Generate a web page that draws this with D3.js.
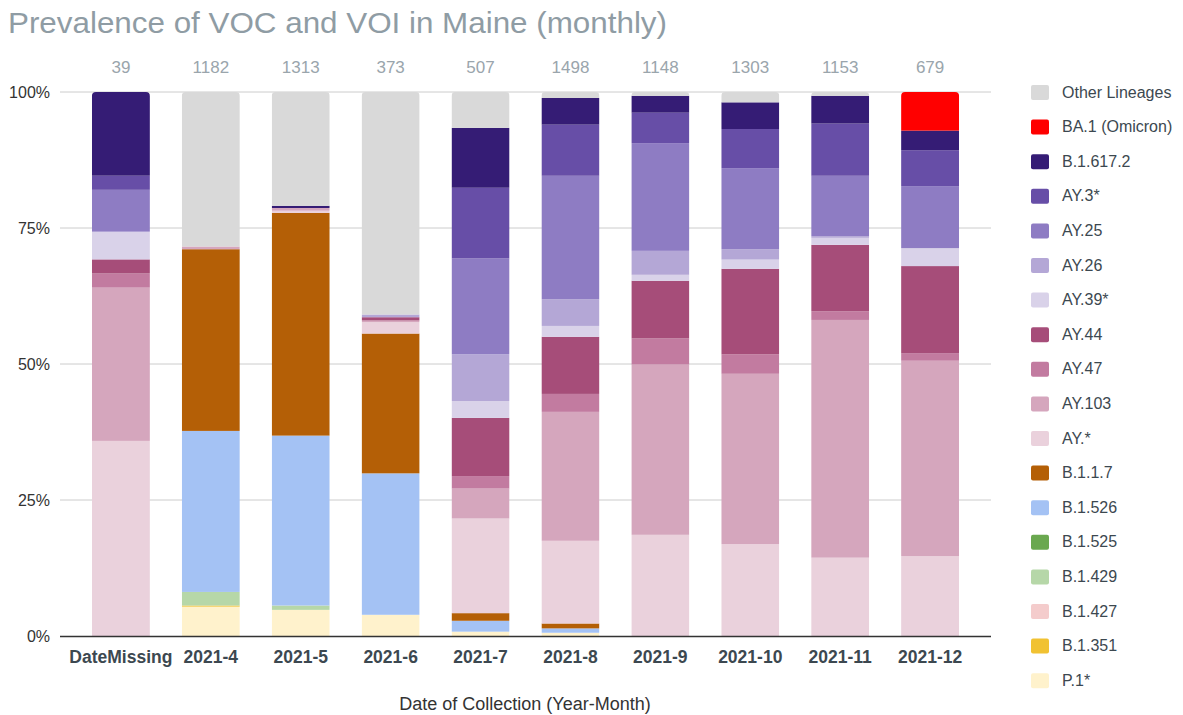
<!DOCTYPE html>
<html><head><meta charset="utf-8">
<script src="https://cdn.jsdelivr.net/npm/d3@7"></script>
<style>body{margin:0;background:#fff;font-family:"Liberation Sans",Arial,sans-serif}</style>
</head><body><svg id="c" width="1183" height="715" font-family="Liberation Sans, Arial, sans-serif"></svg>
<script>
const categories = ["DateMissing","2021-4","2021-5","2021-6","2021-7","2021-8","2021-9","2021-10","2021-11","2021-12"];
const counts = [39,1182,1313,373,507,1498,1148,1303,1153,679];
const seriesNames = ["P.1*","B.1.351","B.1.427","B.1.429","B.1.525","B.1.526","B.1.1.7","AY.*","AY.103","AY.47","AY.44","AY.39*","AY.26","AY.25","AY.3*","B.1.617.2","BA.1 (Omicron)","Other Lineages"];
const seriesColors = ["#fff2cc","#f1c232","#f4cccc","#b6d7a8","#6aa84f","#a4c2f4","#b45f06","#ead1dc","#d5a6bd","#c27ba0","#a64d79","#d9d2e9","#b4a7d6","#8e7cc3","#674ea7","#351c75","#ff0000","#d9d9d9"];
const P1     = [0,5.4,4.8,3.9,0.8,0.6,0,0,0,0];
const B1351  = [0,0.2,0,0,0,0,0,0,0,0];
const B1427  = [0,0,0,0,0,0,0,0,0,0];
const B1429  = [0,2.5,0.8,0,0,0,0,0,0,0];
const B1525  = [0,0,0,0,0,0,0,0,0,0];
const B1526  = [0,29.6,31.2,26.0,2.0,0.8,0,0,0,0];
const B117   = [0,33.4,40.9,25.7,1.4,0.9,0,0,0,0];
const AYstar = [35.9,0,0.4,2.1,17.4,15.2,18.6,16.9,14.4,14.7];
const AY103  = [28.2,0.5,0.5,0.3,5.5,23.7,31.3,31.3,43.7,35.9];
const AY47   = [2.6,0,0,0,2.3,3.3,4.8,3.6,1.6,1.4];
const AY44   = [2.6,0,0,0.6,10.7,10.5,10.6,15.7,12.2,16.0];
const AY39   = [5.1,0,0,0,3.1,2.0,1.1,1.7,1.3,3.3];
const AY26   = [0,0,0,0.5,8.6,4.9,4.4,1.9,0.3,0];
const AY25   = [7.7,0,0,0,17.6,22.7,19.8,14.9,11.1,11.4];
const AY3    = [2.6,0,0,0,13.0,9.4,5.6,7.2,9.6,6.6];
const B16172 = [15.4,0,0.4,0,11.0,4.9,3.1,4.9,5.1,3.6];
const BA1    = [0,0,0,0,0,0,0,0,0,7.1];
const Other  = [0,28.4,20.9,40.9,6.6,1.1,0.7,1.9,0.7,0];
const yTicks = [0,0.25,0.5,0.75,1];
const yTickLabels = ["0%","25%","50%","75%","100%"];

const seriesValues = [P1,B1351,B1427,B1429,B1525,B1526,B117,AYstar,AY103,AY47,AY44,AY39,AY26,AY25,AY3,B16172,BA1,Other];
const rows = categories.map((c,i)=>{const r={cat:c};seriesNames.forEach((s,j)=>r[s]=seriesValues[j][i]);return r;});
const stack = d3.stack().keys(seriesNames).offset(d3.stackOffsetExpand);
const layers = stack(rows);

const svg = d3.select("#c");
const x = d3.scaleBand().domain(categories).range([60,991]).padding(0.355);
const y = d3.scaleLinear().domain([0,1]).range([636,92]);
const color = d3.scaleOrdinal().domain(seriesNames).range(seriesColors);

svg.append("text").attr("x",8).attr("y",33).attr("font-size",29)
  .attr("textLength",659).attr("lengthAdjust","spacingAndGlyphs")
  .attr("fill","#8f9ca4").text("Prevalence of VOC and VOI in Maine (monthly)");

// gridlines
svg.append("g").selectAll("line").data(yTicks.slice(1)).join("line")
  .attr("x1",60).attr("x2",991).attr("y1",d=>y(d)).attr("y2",d=>y(d))
  .attr("stroke","#cccccc").attr("stroke-width",1);

// y labels
svg.append("g").selectAll("text").data(yTicks).join("text")
  .attr("x",50).attr("y",d=>y(d)+5.5).attr("text-anchor","end")
  .attr("font-size",16).attr("fill","#333").text((d,i)=>yTickLabels[i]);

// clip paths for rounded tops
const defs = svg.append("defs");
categories.forEach((c,i)=>{
  defs.append("clipPath").attr("id","clip"+i).append("rect")
    .attr("x",x(c)).attr("y",y(1)).attr("width",x.bandwidth()).attr("height",y(0)-y(1)+6).attr("rx",4);
});

const barsG = svg.append("g");
layers.forEach(layer=>{
  barsG.append("g").attr("fill",color(layer.key)).selectAll("rect").data(layer).join("rect")
    .attr("clip-path",(d,i)=>`url(#clip${i})`)
    .attr("x",d=>x(d.data.cat)).attr("width",x.bandwidth())
    .attr("y",d=>y(d[1])).attr("height",d=>Math.max(0,y(d[0])-y(d[1])));
});

// baseline
svg.append("line").attr("x1",60).attr("x2",991).attr("y1",636.5).attr("y2",636.5).attr("stroke","#333").attr("stroke-width",1.5);

// counts
svg.append("g").selectAll("text").data(categories).join("text")
  .attr("x",d=>x(d)+x.bandwidth()/2).attr("y",73).attr("text-anchor","middle")
  .attr("font-size",17).attr("fill","#9aa5ac").text((d,i)=>counts[i]);

// x labels
svg.append("g").selectAll("text").data(categories).join("text")
  .attr("x",d=>x(d)+x.bandwidth()/2).attr("y",663).attr("text-anchor","middle")
  .attr("font-size",17.5).attr("font-weight","bold").attr("fill","#3c4850").text(d=>d);

svg.append("text").attr("x",525).attr("y",710).attr("text-anchor","middle")
  .attr("font-size",18).attr("fill","#333").text("Date of Collection (Year-Month)");

// legend
const legOrder = seriesNames.slice().reverse();
const lg = svg.append("g");
legOrder.forEach((s,i)=>{
  const yy = 92 + i*34.6;
  lg.append("rect").attr("x",1031).attr("y",yy-7).attr("width",18).attr("height",15).attr("rx",2).attr("fill",color(s));
  lg.append("text").attr("x",1062).attr("y",yy+5.5).attr("font-size",16).attr("fill","#3c4850").text(s);
});
</script></body></html>
